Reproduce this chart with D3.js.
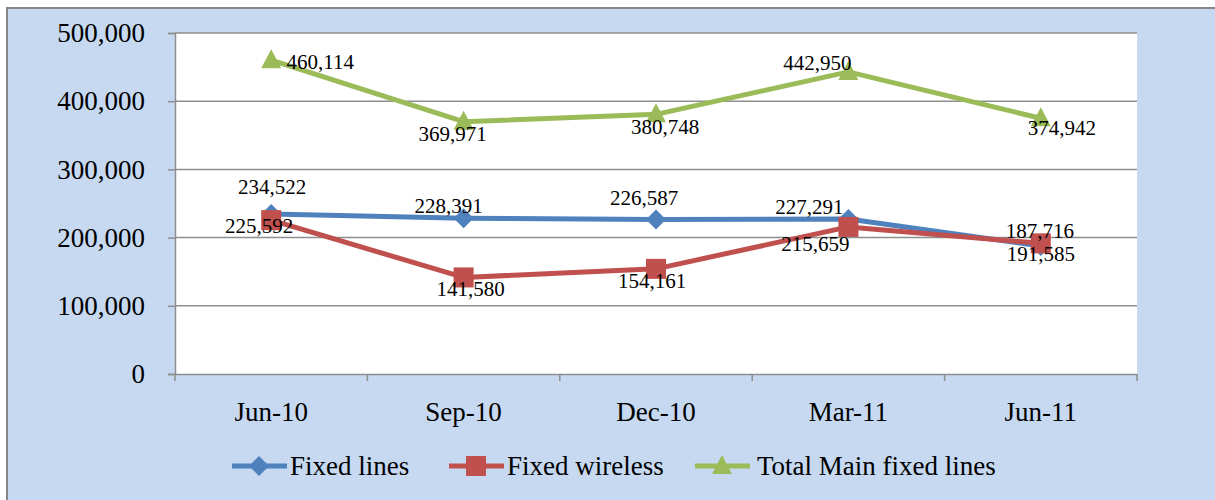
<!DOCTYPE html>
<html>
<head>
<meta charset="utf-8">
<script src="https://cdn.jsdelivr.net/npm/d3@7"></script>
<style>
  html, body { margin: 0; padding: 0; background: #ffffff; }
  svg { display: block; }
</style>
</head>
<body>
<svg id="chart"></svg>
<script>
// data
const categories = ['Jun-10', 'Sep-10', 'Dec-10', 'Mar-11', 'Jun-11'];
const fixedLines = [234522, 228391, 226587, 227291, 187716];
const fixedWireless = [225592, 141580, 154161, 215659, 191585];
const totalMainFixed = [460114, 369971, 380748, 442950, 374942];
const yTicks = [0, 100000, 200000, 300000, 400000, 500000];

const width = 1215;
const height = 500;
const plot = { left: 175, right: 1137, top: 33, bottom: 374 };
const fontFamily = '"Liberation Serif", "Times New Roman", serif';

const series = [
  { name: 'Fixed lines', values: fixedLines, color: '#4F81BD', marker: 'diamond',
    offsets: [[1, -27], [-15, -13], [-12, -22], [-39, -12], [-1, -15]] },
  { name: 'Fixed wireless', values: fixedWireless, color: '#C0504D', marker: 'square',
    offsets: [[-12, 6], [7, 11], [-4, 12], [-33, 17], [0, 10]] },
  { name: 'Total Main fixed lines', values: totalMainFixed, color: '#9BBB59', marker: 'triangle',
    offsets: [[49, 1], [-11, 12], [9, 12], [-31, -9], [21, 9]] },
];

const svg = d3.select('#chart').attr('width', width).attr('height', height);

// outer frame
svg.append('rect')
  .attr('x', 7).attr('y', 8)
  .attr('width', width + 20).attr('height', height + 20)
  .attr('fill', '#C6D9F1')
  .attr('stroke', '#878787')
  .attr('stroke-width', 2);

const x = d3.scaleBand()
  .domain(categories)
  .range([plot.left, plot.right])
  .padding(0);

const y = d3.scaleLinear()
  .domain([0, 500000])
  .range([plot.bottom, plot.top]);

// plot area
svg.append('rect')
  .attr('x', plot.left).attr('y', plot.top)
  .attr('width', plot.right - plot.left)
  .attr('height', plot.bottom - plot.top)
  .attr('fill', '#ffffff');

// gridlines
svg.append('g')
  .selectAll('line')
  .data(yTicks.filter((d) => d > 0))
  .enter()
  .append('line')
  .attr('x1', plot.left).attr('x2', plot.right)
  .attr('y1', (d) => y(d)).attr('y2', (d) => y(d))
  .attr('stroke', '#8e8e8e')
  .attr('stroke-width', 1.5);

// y axis
const yAxis = svg.append('g')
  .attr('transform', `translate(${plot.left},0)`)
  .call(d3.axisLeft(y).tickValues(yTicks).tickSize(7).tickPadding(23).tickFormat(d3.format(',')));
yAxis.select('.domain').attr('stroke', '#8e8e8e').attr('stroke-width', 1.5);
yAxis.selectAll('.tick line').attr('stroke', '#8e8e8e').attr('stroke-width', 1.5);
yAxis.selectAll('text')
  .attr('fill', '#000')
  .style('font-family', fontFamily)
  .style('font-size', '27px');

// x axis
const xAxis = svg.append('g')
  .attr('transform', `translate(0,${plot.bottom})`)
  .call(d3.axisBottom(x).tickSize(0).tickPadding(28));
xAxis.select('.domain').attr('stroke', '#8e8e8e').attr('stroke-width', 1.5);
xAxis.selectAll('text')
  .attr('fill', '#000')
  .style('font-family', fontFamily)
  .style('font-size', '27px');

// x tick marks on category boundaries
const bounds = categories.map((c) => x(c)).concat([x(categories[categories.length - 1]) + x.bandwidth()]);
xAxis.selectAll('.bound')
  .data(bounds)
  .enter()
  .append('line')
  .attr('class', 'bound')
  .attr('x1', (d) => d).attr('x2', (d) => d)
  .attr('y1', 0).attr('y2', 7)
  .attr('stroke', '#8e8e8e')
  .attr('stroke-width', 1.5);

const cx = (i) => x(categories[i]) + x.bandwidth() / 2;

const drawMarker = (g, type, color, px, py) => {
  if (type === 'diamond') {
    g.append('path')
      .attr('d', `M${px},${py - 10}L${px + 10},${py}L${px},${py + 10}L${px - 10},${py}Z`)
      .attr('fill', color);
  } else if (type === 'square') {
    g.append('rect')
      .attr('x', px - 10).attr('y', py - 10)
      .attr('width', 20).attr('height', 20)
      .attr('fill', color);
  } else {
    g.append('path')
      .attr('d', `M${px},${py - 11}L${px + 10},${py + 8}L${px - 10},${py + 8}Z`)
      .attr('fill', color);
  }
};

const line = d3.line()
  .x((d, i) => cx(i))
  .y((d) => y(d));

// lines and markers
series.forEach((s) => {
  const g = svg.append('g');
  g.append('path')
    .datum(s.values)
    .attr('d', line)
    .attr('fill', 'none')
    .attr('stroke', s.color)
    .attr('stroke-width', 5)
    .attr('stroke-linejoin', 'round');
  s.values.forEach((v, i) => drawMarker(g, s.marker, s.color, cx(i), y(v)));
});

// data labels
series.forEach((s) => {
  svg.append('g')
    .selectAll('text')
    .data(s.values)
    .enter()
    .append('text')
    .attr('x', (d, i) => cx(i) + s.offsets[i][0])
    .attr('y', (d, i) => y(d) + s.offsets[i][1])
    .attr('dy', '0.35em')
    .attr('text-anchor', 'middle')
    .style('font-family', fontFamily)
    .style('font-size', '21px')
    .attr('fill', '#000')
    .text((d) => d3.format(',')(d));
});

// legend
const legendItems = [
  { x: 232, textX: 290 },
  { x: 449, textX: 507 },
  { x: 695, textX: 757 },
];
const legendY = 466;
series.forEach((s, i) => {
  const g = svg.append('g');
  const lx = legendItems[i].x;
  g.append('line')
    .attr('x1', lx).attr('x2', lx + 55)
    .attr('y1', legendY).attr('y2', legendY)
    .attr('stroke', s.color)
    .attr('stroke-width', 5);
  drawMarker(g, s.marker, s.color, lx + 27, legendY);
  g.append('text')
    .attr('x', legendItems[i].textX)
    .attr('y', legendY)
    .attr('dy', '0.35em')
    .style('font-family', fontFamily)
    .style('font-size', '27px')
    .attr('fill', '#000')
    .text(s.name);
});
</script>
</body>
</html>
